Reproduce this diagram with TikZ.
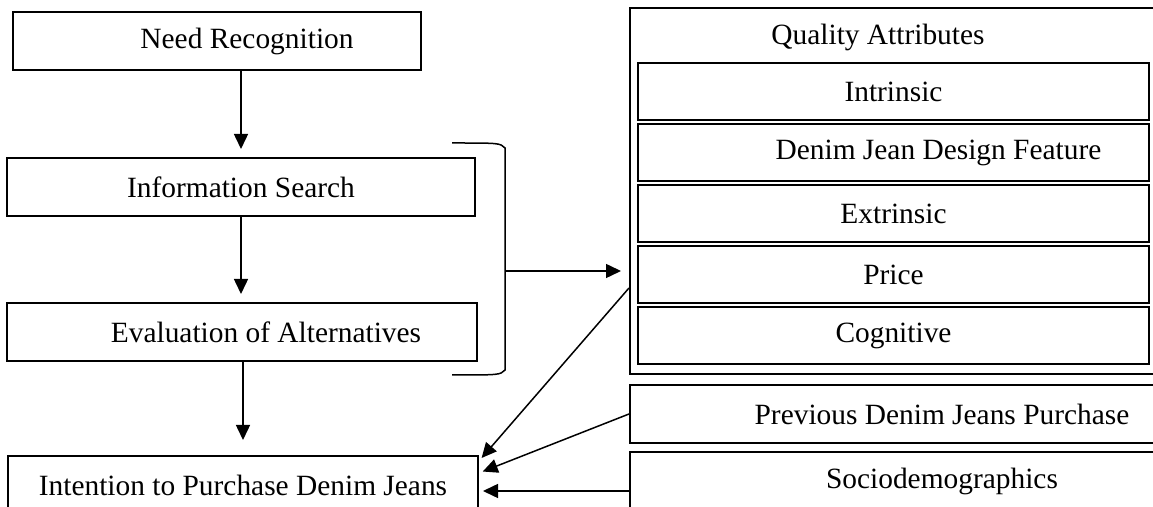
\documentclass[tikz,border=0pt]{standalone}
\usepackage{fontspec}
\setmainfont{Liberation Serif}
\usetikzlibrary{arrows.meta,positioning}
\newcommand{\wordfont}{\fontsize{14.7pt}{17pt}\selectfont}

\begin{document}
\begin{tikzpicture}[x=0.5pt,y=-0.5pt,on grid,
  >={Triangle[length=7.5pt,width=7pt]},
  stagebox/.style={draw,line width=1pt,minimum height=29pt,inner sep=0pt,font=\wordfont},
  attrbox/.style={stagebox,minimum width=255.5pt,minimum height=28.5pt},
  flow/.style={->,line width=0.75pt,shorten >=4pt}]
   \useasboundingbox (0,0) rectangle (1153,507);
   \clip (0,0) rectangle (1153,507);
   % buying stages
   \node [stagebox,minimum width=204pt] (need) at (217,41) {\hspace*{30pt}Need Recognition};
   \node [stagebox,minimum width=234pt] (info) at (241,187) {Information Search};
   \node [stagebox,minimum width=235pt] (eval) at (242,332) {\hspace*{24pt}Evaluation of Alternatives};
   \node [stagebox,minimum width=235pt] (intent) at (243,485) {Intention to Purchase Denim Jeans};
   % quality attributes
   \node [stagebox,minimum width=263.5pt,minimum height=183pt] (qa) at (893.5,191) {};
   \node [font=\wordfont] (qtitle) at (878,37) {Quality Attributes};
   \node [attrbox] (intr) at (893.5,92) {Intrinsic};
   \node [attrbox,below=30.5pt of intr] (design) {\hspace*{45pt}Denim Jean Design Feature};
   \node [attrbox,below=30.5pt of design] (extr) {Extrinsic};
   \node [attrbox,below=30.5pt of extr] (price) {Price};
   \node [attrbox,below=30.5pt of price] (cogn) {Cognitive};
   \node [stagebox,minimum width=312pt] (prev) at (942,414) {Previous Denim Jeans Purchase};
   \node [stagebox,minimum width=312pt] (socio) at (942,481) {Sociodemographics};
   % bracket round search and evaluation
   \draw [line width=0.75pt] (452,143) .. controls (500,143) .. (505,148) -- (505,370)
     .. controls (500,375) .. (452,375);
   \coordinate (brk) at (505,271);
   \coordinate (sotip) at ([yshift=-3pt]intent.east);
   \draw [flow] (need.south -| info) -- (info);
   \draw [flow] (info.south) -- (info.south |- eval.north);
   \draw [flow,shorten >=7.5pt] (eval.south -| intent) -- (intent);
   \draw [flow] (brk) -- (qa.west |- brk);
   \draw [flow,shorten >=2pt] ([yshift=-48.5pt]qa.west) -- ([yshift=-3pt]intent.north east);
   \draw [flow,shorten >=2pt] (prev.west) -- ([yshift=6pt]intent.east);
   \draw [flow,shorten >=2pt] (socio.west |- sotip) -- (sotip);
\end{tikzpicture}
\end{document}
